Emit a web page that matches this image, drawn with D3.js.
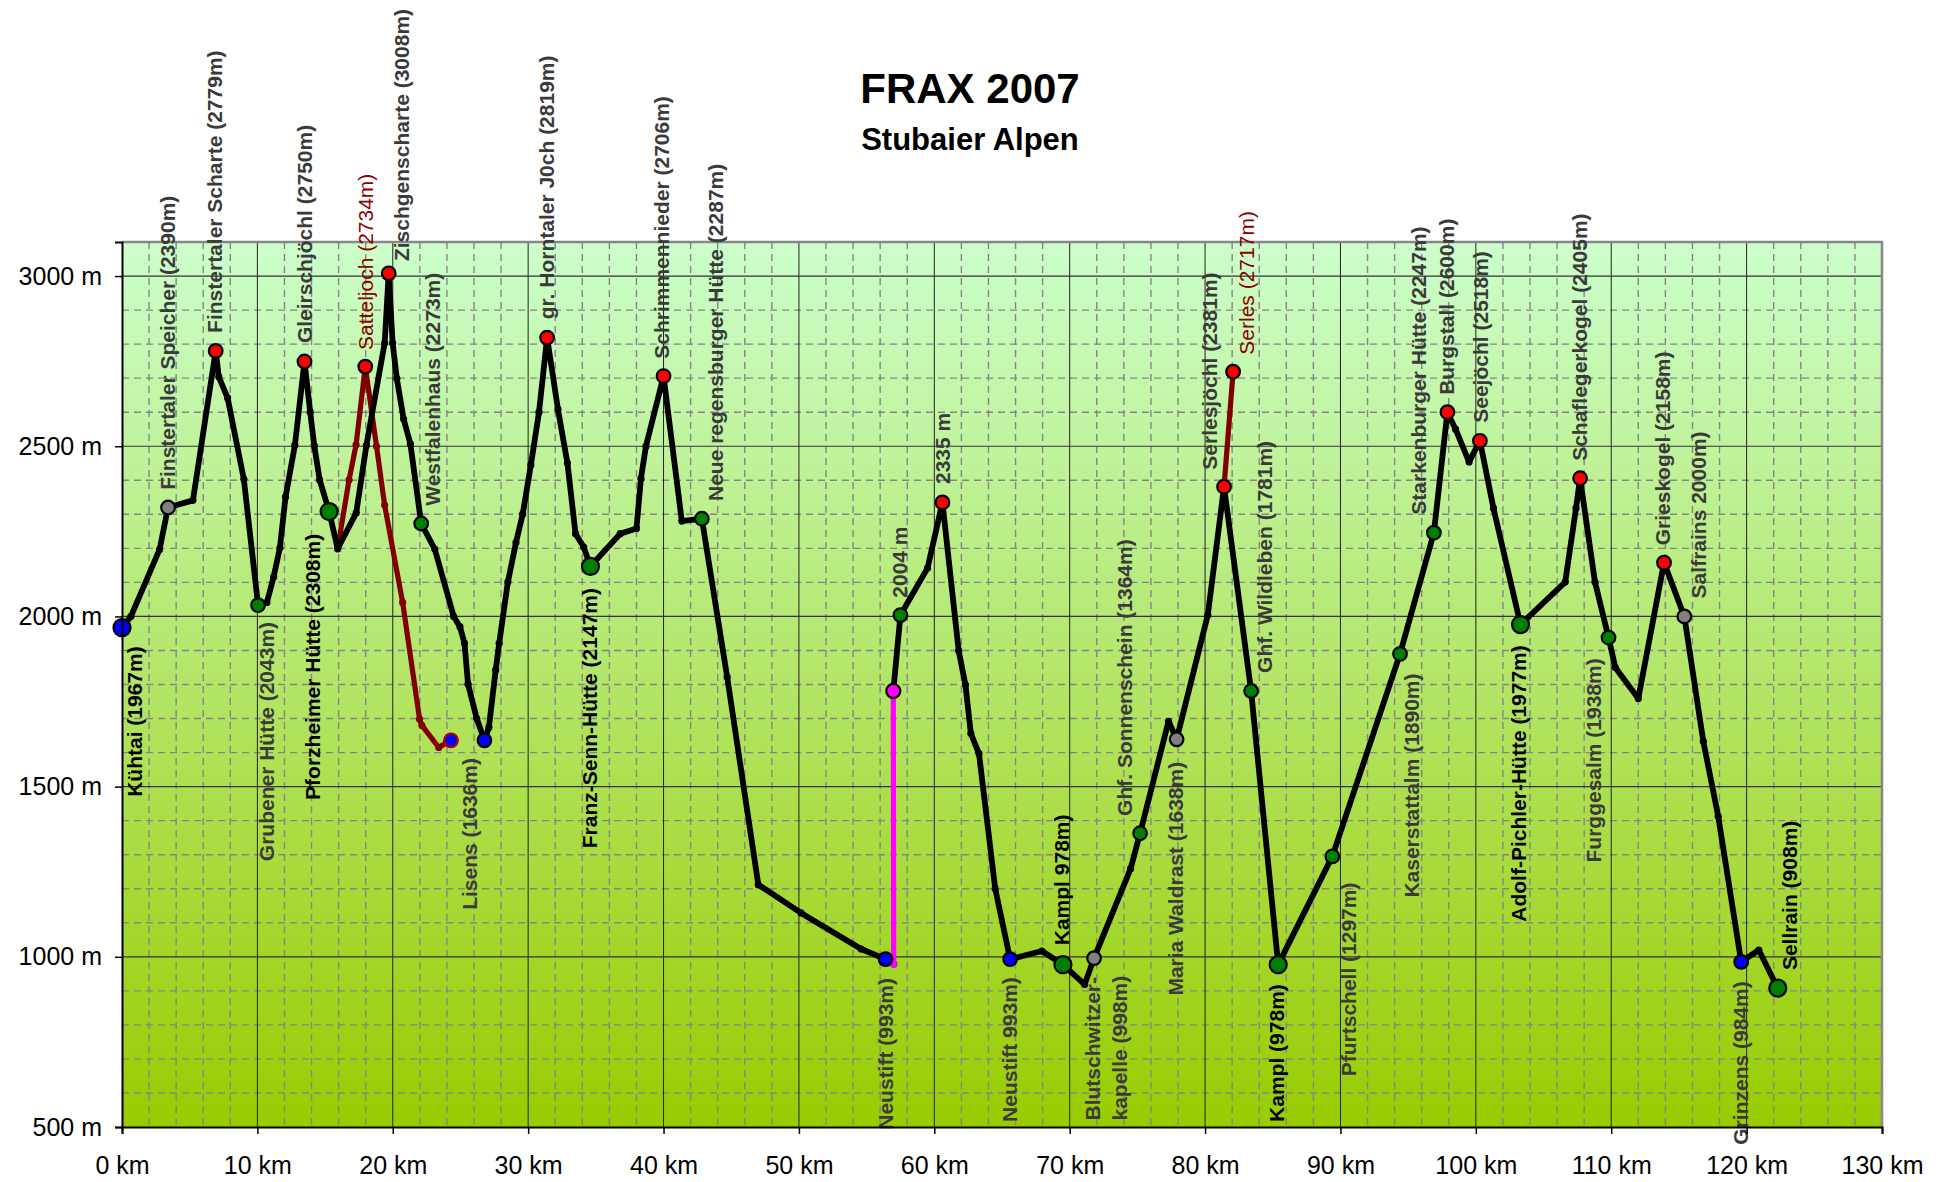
<!DOCTYPE html>
<html lang="de">
<head>
    <meta charset="utf-8">
    <script src="https://d3js.org/d3.v7.min.js"></script>
    <title>FRAX 2007</title>
    <style>
        body { margin: 0; background: #fff; }
        svg text { font-family: "Liberation Sans", Arial, sans-serif; }
    </style>
</head>
<body>
    <div id="container"></div>
    <script>
        // ticks
        const xTicks = [0, 10, 20, 30, 40, 50, 60, 70, 80, 90, 100, 110, 120, 130];
        const yTicks = [500, 1000, 1500, 2000, 2500, 3000];

        // main route, part 1 (Kühtai -> Neustift)
        const routeKmA = [0, 0.66, 2.77, 3.4, 5.24, 6.92, 7.15, 7.8, 9.0, 10.05, 10.7, 11.2, 11.66, 12.08, 12.77, 13.48,
            13.9, 14.2, 14.6, 15.3, 15.93, 17.3, 18.05, 19.4, 19.7, 19.99, 20.3, 20.8, 21.3, 22.1, 23.1, 24.5, 24.96,
            25.3, 25.56, 26.2, 26.77, 27.1, 27.6, 27.86, 28.5, 29.1, 29.6, 30.2, 30.8, 31.4, 32.2, 32.9, 33.5, 34.1,
            34.6, 36.8, 38.0, 38.33, 38.7, 40.0, 41.35, 42.83, 44.7, 47.0, 50.15, 54.6, 56.4, 57.0];
        const routeAltA = [1967, 2000, 2196, 2320, 2341, 2780, 2704, 2642, 2403, 2033, 2041, 2116, 2201, 2351, 2503, 2749,
            2600, 2502, 2401, 2308, 2199, 2304, 2502, 2803, 3008, 2803, 2699, 2580, 2507, 2273, 2198, 2000, 1970,
            1921, 1801, 1700, 1636, 1674, 1842, 1921, 2101, 2217, 2301, 2445, 2600, 2819, 2609, 2451, 2243, 2204,
            2147, 2243, 2258, 2405, 2500, 2706, 2280, 2287, 1822, 1212, 1129, 1023, 993, 979];

        // main route, part 2 (after the bus -> Sellrain)
        const routeKmB = [56.97, 57.5, 59.5, 60.6, 61.8, 62.3, 62.7, 63.3, 64.5, 65.6, 67.95, 69.5, 71.1, 71.8, 74.5,
            75.2, 77.3, 77.9, 80.2, 81.4, 83.4, 85.4, 89.4, 94.4, 96.9, 97.9, 98.5, 99.5, 100.3, 101.3, 103.3, 106.6,
            107.4, 107.7, 108.8, 109.8, 110.3, 112.0, 113.9, 115.4, 116.8, 117.9, 119.6, 120.9, 122.3];
        const routeAltB = [1781, 2004, 2142, 2335, 1899, 1799, 1656, 1597, 1200, 993, 1017, 977, 919, 996, 1259,
            1363, 1692, 1639, 2004, 2381, 1781, 977, 1295, 1890, 2246, 2600, 2550, 2454, 2516, 2318, 1976, 2101,
            2318, 2406, 2101, 1938, 1850, 1759, 2158, 2000, 1633, 1413, 985, 1020, 908];

        // variante Satteljoch
        const sattelKm = [15.93, 16.77, 17.29, 17.97, 18.8, 19.4, 20.73, 21.98, 22.15, 23.4, 23.97, 24.3];
        const sattelAlt = [2199, 2401, 2504, 2734, 2500, 2327, 2041, 1698, 1680, 1615, 1629, 1636];

        // variante Serles
        const serlesKm = [81.4, 82.07];
        const serlesAlt = [2381, 2719];

        // bus Neustift
        const busKm = [57.0, 56.97];
        const busAlt = [979, 1781];

        // waypoints
        const wpKm = [0, 3.4, 6.92, 10.05, 13.48, 15.3, 17.97, 19.7, 22.1, 24.3, 26.77, 31.4, 34.6, 40.0, 42.83,
            56.4, 56.97, 57.5, 60.6, 65.6, 69.5, 71.8, 75.2, 77.9, 81.4, 82.07, 83.4, 85.4, 89.4, 94.4, 96.9, 97.9,
            100.3, 103.3, 107.7, 109.8, 113.9, 115.4, 119.6, 122.3];
        const wpAlt = [1967, 2320, 2780, 2033, 2749, 2308, 2734, 3008, 2273, 1636, 1636, 2819, 2147, 2706, 2287,
            993, 1781, 2004, 2335, 993, 977, 996, 1363, 1639, 2381, 2719, 1781, 977, 1295, 1890, 2246, 2600,
            2516, 1976, 2406, 1938, 2158, 2000, 985, 908];
        const wpType = ["start", "point", "summit", "hut", "summit", "check", "summit", "summit", "hut", "altEnd",
            "village", "summit", "check", "summit", "hut", "village", "bus", "hut", "summit", "village", "check",
            "point", "hut", "point", "summit", "summit", "hut", "check", "hut", "hut", "hut", "summit", "summit",
            "check", "summit", "hut", "summit", "point", "village", "check"];

        // labels: text, start position (km, m), kind
        const labelText = ["Finstertaler Speicher (2390m)", "Finstertaler Scharte (2779m)", "Gleirschjöchl (2750m)",
            "Satteljoch (2734m)", "Zischgenscharte (3008m)", "Westfalenhaus (2273m)", "gr. Horntaler J0ch (2819m)",
            "Schrimmennieder (2706m)", "Neue regensburger Hütte (2287m)", "2335 m", "2004 m", "Serlesjöchl (2381m)",
            "Serles (2717m)", "Ghf. Wildleben (1781m)", "Ghf. Sonnenschein (1364m)", "Starkenburger Hütte (2247m)",
            "Burgstall (2600m)", "Seejöchl (2518m)", "Schaflegerkogel (2405m)", "Grieskogel (2158m)", "Salfrains 2000m)",
            "Kühtai (1967m)", "Grubener Hütte (2043m)", "Pforzheimer Hütte (2308m)", "Lisens (1636m)",
            "Franz-Senn-Hütte (2147m)", "Neustift (993m)", "Neustift 993m)", "Kampl 978m)", "Blutschwitzer-",
            "kapelle (998m)", "Maria Waldrast (1638m)", "Kampl (978m)", "Pfurtschell (1297m)", "Kaserstattalm (1890m)",
            "Adolf-Pichler-Hütte (1977m)", "Furggesalm (1938m)", "Grinzens (984m)", "Sellrain (908m)"];
        const labelKm = [3.4, 6.85, 13.52, 17.97, 20.67, 22.98, 31.39, 39.89, 43.82, 60.6, 57.47, 80.32, 83.05, 84.37,
            74.05, 95.78, 97.87, 100.34, 107.68, 113.8, 116.44, 0.96, 10.72, 14.08, 25.68, 34.52, 56.41, 65.58,
            69.44, 71.68, 73.72, 77.84, 85.26, 90.6, 95.28, 103.15, 108.71, 119.58, 123.2];
        const labelAlt = [2372, 2833, 2803, 2783, 3044, 2325, 2873, 2757, 2339, 2389, 2055, 2431, 2769, 1834,
            1414, 2299, 2651, 2569, 2457, 2209, 2053, 1470, 1281, 1461, 1138, 1319, 492, 515,
            1034, 519, 519, 886, 515, 649, 1174, 1103, 1277, 448, 961];
        const labelKind = ["normal", "normal", "normal", "variant", "normal", "normal", "normal", "normal", "normal",
            "normal", "normal", "normal", "variant", "normal", "normal", "normal", "normal", "normal", "normal",
            "normal", "normal", "check", "normal", "check", "normal", "check", "normal", "normal", "check", "normal",
            "normal", "normal", "check", "normal", "normal", "check", "normal", "normal", "check"];

        const W = 1952, H = 1182;
        const M = {left: 122, right: 1882, top: 242, bottom: 1127};

        const x = d3.scaleLinear().domain([0, 130]).range([M.left, M.right]);
        const y = d3.scaleLinear().domain([500, 3100]).range([M.bottom, M.top]);

        const svg = d3.select("#container")
                      .append("svg")
                      .attr("width", W)
                      .attr("height", H);

        const defs = svg.append("defs");
        const grad = defs.append("linearGradient")
                         .attr("id", "bg")
                         .attr("x1", 0).attr("y1", 0).attr("x2", 0).attr("y2", 1);
        grad.append("stop").attr("offset", "0%").attr("stop-color", "#ccffcc");
        grad.append("stop").attr("offset", "100%").attr("stop-color", "#99cc00");

        svg.append("rect")
           .attr("x", M.left).attr("y", M.top)
           .attr("width", M.right - M.left).attr("height", M.bottom - M.top)
           .attr("fill", "url(#bg)");

        // minor grid
        const grid = svg.append("g");
        grid.selectAll(".vminor")
            .data(d3.range(2, 130, 2).filter(d => d % 10 !== 0))
            .enter().append("line")
            .attr("x1", d => x(d)).attr("x2", d => x(d))
            .attr("y1", M.top).attr("y2", M.bottom)
            .attr("stroke", "#858585").attr("stroke-width", 1.4)
            .attr("stroke-dasharray", "7,5");
        grid.selectAll(".hminor")
            .data(d3.range(600, 3100, 100).filter(d => d % 500 !== 0))
            .enter().append("line")
            .attr("x1", M.left).attr("x2", M.right)
            .attr("y1", d => y(d)).attr("y2", d => y(d))
            .attr("stroke", "#858585").attr("stroke-width", 1.4)
            .attr("stroke-dasharray", "7,5");
        // major grid
        grid.selectAll(".vmajor")
            .data(xTicks.slice(1, -1))
            .enter().append("line")
            .attr("x1", d => x(d)).attr("x2", d => x(d))
            .attr("y1", M.top).attr("y2", M.bottom)
            .attr("stroke", "#222").attr("stroke-width", 1);
        grid.selectAll(".hmajor")
            .data(yTicks.slice(1))
            .enter().append("line")
            .attr("x1", M.left).attr("x2", M.right)
            .attr("y1", d => y(d)).attr("y2", d => y(d))
            .attr("stroke", "#333").attr("stroke-width", 1.2);

        // border top / right
        svg.append("path")
           .attr("d", `M${M.left},${M.top}H${M.right}V${M.bottom}`)
           .attr("fill", "none").attr("stroke", "#888").attr("stroke-width", 2.5);

        const line = d3.line().x(d => x(d[0])).y(d => y(d[1]));
        const pts = (ks, as) => ks.map((k, i) => [k, as[i]]);

        function drawRoute(data, color, width) {
            svg.append("path")
               .datum(data)
               .attr("d", line)
               .attr("fill", "none")
               .attr("stroke", color)
               .attr("stroke-width", width)
               .attr("stroke-linejoin", "round")
               .attr("stroke-linecap", "round");
            svg.append("g").selectAll("circle")
               .data(data).enter().append("circle")
               .attr("cx", d => x(d[0])).attr("cy", d => y(d[1]))
               .attr("r", 3.6).attr("fill", color);
        }

        drawRoute(pts(sattelKm, sattelAlt), "#800000", 5.2);
        drawRoute(pts(routeKmA, routeAltA), "#000", 5.8);
        drawRoute(pts(routeKmB, routeAltB), "#000", 5.8);
        drawRoute(pts(serlesKm, serlesAlt), "#800000", 5.2);
        drawRoute(pts(busKm, busAlt), "#ff00ff", 5.2);

        // waypoint markers
        const wpFill = {start: "#0000ff", village: "#0000ff", altEnd: "#0000ff", summit: "#ff0000",
            hut: "#008000", check: "#008000", point: "#808080", bus: "#ff00ff"};
        const wpR = {start: 8.5, check: 8.5, bus: 7};
        svg.append("g").selectAll("circle")
           .data(wpKm.map((k, i) => ({km: k, alt: wpAlt[i], type: wpType[i]})))
           .enter().append("circle")
           .attr("cx", d => x(d.km)).attr("cy", d => y(d.alt))
           .attr("r", d => wpR[d.type] || 6.8)
           .attr("fill", d => wpFill[d.type])
           .attr("stroke", d => d.type === "altEnd" ? "#b00000" : "#000")
           .attr("stroke-width", 2.2);

        // labels
        const labelColor = {normal: "#3a3a3a", check: "#000", variant: "#8b0000"};
        svg.append("g").selectAll("text")
           .data(labelText.map((t, i) => ({t: t, km: labelKm[i], alt: labelAlt[i], kind: labelKind[i]})))
           .enter().append("text")
           .attr("transform", d => `translate(${x(d.km)},${y(d.alt)}) rotate(-90)`)
           .attr("dy", "0.35em")
           .attr("font-size", 21)
           .attr("font-weight", d => d.kind === "variant" ? "normal" : "bold")
           .attr("fill", d => labelColor[d.kind])
           .text(d => d.t);

        // axes
        const xAxis = d3.axisBottom(x).tickValues(xTicks).tickFormat(d => d + " km").tickSize(7).tickPadding(22);
        const yAxis = d3.axisLeft(y).tickValues(yTicks).tickFormat(d => d + " m").tickSize(7).tickPadding(13);

        const gx = svg.append("g")
                      .attr("transform", "translate(0," + M.bottom + ")")
                      .call(xAxis);
        const gy = svg.append("g")
                      .attr("transform", "translate(" + M.left + ",0)")
                      .call(yAxis);
        [gx, gy].forEach(g => {
            g.select(".domain").attr("stroke", "#000").attr("stroke-width", 2);
            g.selectAll(".tick line").attr("stroke", "#000").attr("stroke-width", 1.5);
            g.selectAll(".tick text")
             .attr("font-size", 25)
             .attr("font-family", "Liberation Sans, Arial, sans-serif")
             .attr("fill", "#000");
        });

        // title
        svg.append("text")
           .attr("x", 970).attr("y", 103)
           .attr("text-anchor", "middle")
           .attr("font-size", 42).attr("font-weight", "bold")
           .text("FRAX 2007");
        svg.append("text")
           .attr("x", 970).attr("y", 150)
           .attr("text-anchor", "middle")
           .attr("font-size", 31).attr("font-weight", "bold")
           .text("Stubaier Alpen");
    </script>
</body>
</html>
